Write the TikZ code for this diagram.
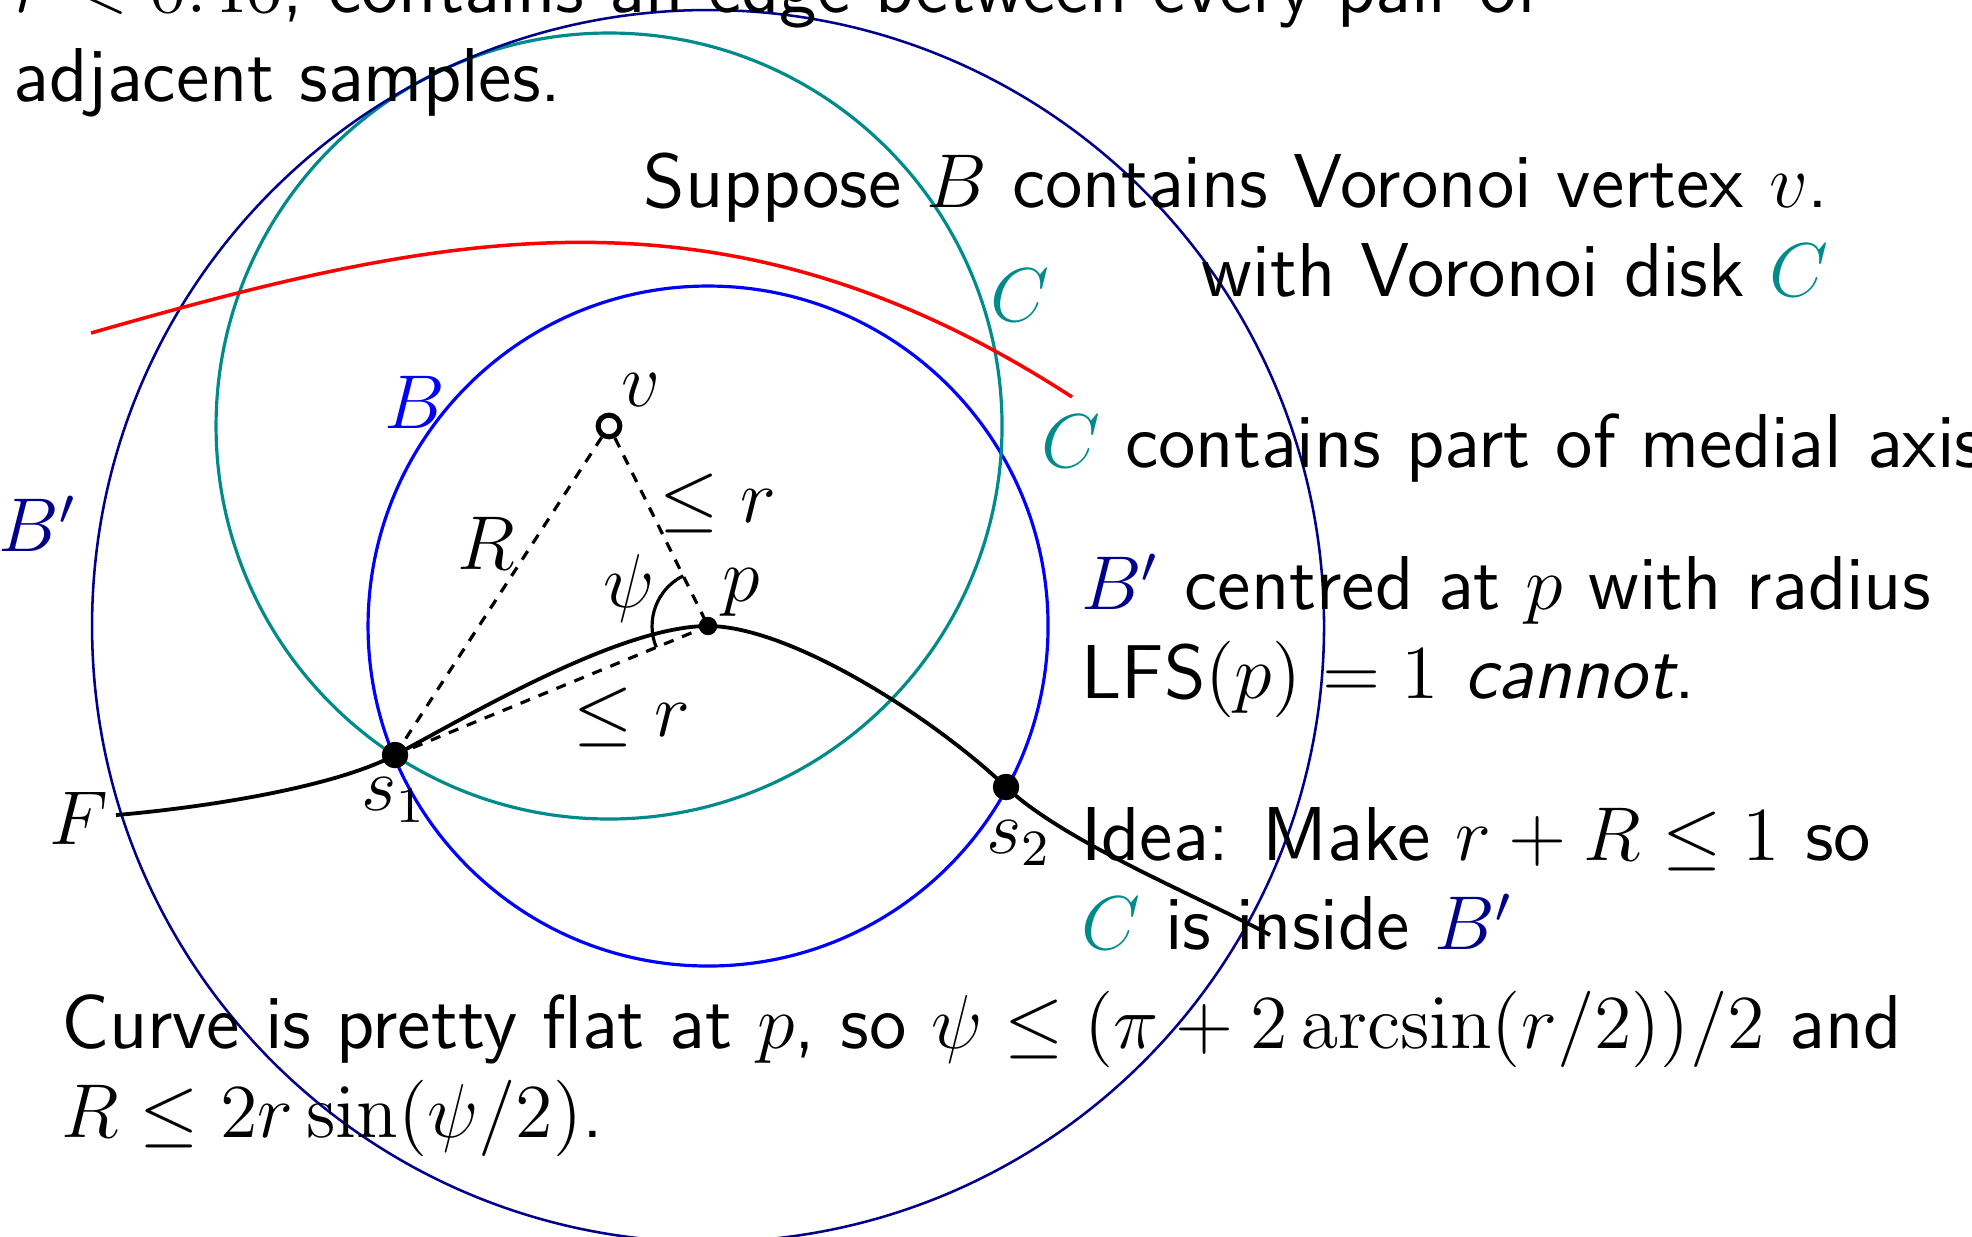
\documentclass[tikz,border=0pt]{standalone}
\usepackage{amsmath,amssymb}
\usepackage{xcolor}
\usepackage{tikz}
\usetikzlibrary{calc}
\renewcommand{\familydefault}{\sfdefault}
\newcommand{\slidefont}{\fontsize{12}{14}\selectfont}
\definecolor{diskc}{RGB}{0,139,139}
\definecolor{ballb}{RGB}{0,0,255}
\definecolor{ballbp}{RGB}{0,0,139}
\newcommand{\Bp}{\textcolor{ballbp}{$B'$}}
\newcommand{\Cd}{\textcolor{diskc}{$C$}}

\begin{document}
\begin{tikzpicture}[scale=0.5525,
  every node/.style={font=\slidefont},
  txt/.style={inner sep=0pt, anchor=base west, align=left},
  lbl/.style={inner sep=0pt},
  dot/.style={circle, fill, inner sep=0pt, minimum size=1.45mm},
  pdot/.style={circle, fill, inner sep=0pt, minimum size=1.0mm},
  vmark/.style={circle, draw, line width=0.8pt, inner sep=0pt, minimum size=1.2mm},
  disk/.style={line width=0.5pt},
  dsh/.style={line width=0.5pt, dash pattern=on 1.6pt off 1.45pt}]
  \useasboundingbox (0,0) rectangle (19.72,-12.37);
  \node[pdot] (p) at (7.08,-6.26) {};
  \node[dot] (s1) at (3.95,-7.55) {};
  \node[dot] (s2) at (10.06,-7.87) {};
  \node[vmark] (v) at (6.09,-4.26) {};
  \coordinate (F0) at (1.16,-8.15);
  \coordinate (F1) at (12.70,-9.35);
  \coordinate (M0) at (0.91,-3.33);
  \coordinate (M1) at (10.72,-3.97);
  % balls and Voronoi disk
  \draw[disk, ballb] (p.center) circle (3.4);
  \draw[disk, diskc] (v.center) circle (3.93);
  \draw[ballbp, line width=0.4pt] (p.center) circle (6.16);
  % medial axis piece and the curve F
  \draw[red, line width=0.55pt] (M0) .. controls (4.41,-2.33) and (7.22,-1.70) .. (M1);
  \draw[line width=0.6pt] (F0) .. controls (2.00,-8.08) and (3.33,-7.88) .. (s1.center)
    .. controls (4.70,-7.15) and (6.20,-6.26) .. (p.center)
    .. controls (7.90,-6.26) and (9.34,-7.18) .. (s2.center)
    .. controls (10.64,-8.42) and (12.00,-8.97) .. (F1);
  \draw[dsh] (v) -- (s1.center);
  \draw[dsh] (v) -- (p.center);
  \draw[dsh] (s1.center) -- (p.center);
  \draw[line width=0.5pt] (p.center) ++(202.4:0.56) arc (202.4:116.3:0.56);
  \node[dot] at (s1) {};
  \node[dot] at (s2) {};
  \node[pdot] at (p) {};
  % labels
  \node[lbl, text=ballb] (lB) at (4.15,-4.02) {$B$};
  \node[lbl] (lv) at (6.41,-3.90) {$v$};
  \node[lbl, text=diskc] (lC) at (10.20,-2.95) {$C$};
  \node[lbl, text=ballbp] (lBp) at (0.38,-5.24) {$B'$};
  \node[lbl] (lR) at (4.86,-5.43) {$R$};
  \node[lbl] (lr1) at (7.18,-5.03) {$\le r$};
  \node[lbl] (lpsi) at (6.29,-5.88) {$\psi$};
  \node[lbl] (lp) at (7.41,-5.93) {$p$};
  \node[lbl] (lr2) at (6.32,-7.17) {$\le r$};
  \node[lbl] (ls1) at (3.94,-8.00) {$s_1$};
  \node[lbl] (ls2) at (10.19,-8.43) {$s_2$};
  \node[lbl] (lF) at (0.79,-8.18) {$F$};
  % text (base = last line)
  \node[txt] (top) at (0.12,-1.02)
    {$r < 0.46$, contains an edge between every pair of\\adjacent samples.};
  \node[txt, anchor=base east, align=right] (sup) at (18.30,-2.97)
    {Suppose $B$ contains Voronoi vertex $v$.\\with Voronoi disk \Cd};
  \node[txt] (med) at (10.40,-4.68) {\Cd{} contains part of medial axis};
  \node[txt] (cen) at (10.80,-6.99)
    {\Bp{} centred at $p$ with radius\\LFS$(p) = 1$ \emph{cannot}.};
  \node[txt] (idea) at (10.80,-9.50)
    {Idea: Make $r + R \le 1$ so\\\Cd{} is inside \Bp};
  \node[txt] (flat) at (0.60,-11.38)
    {Curve is pretty flat at $p$, so $\psi \le (\pi + 2\arcsin(r/2))/2$ and\\
     $R \le 2r\sin(\psi/2)$.};
\end{tikzpicture}
\end{document}
